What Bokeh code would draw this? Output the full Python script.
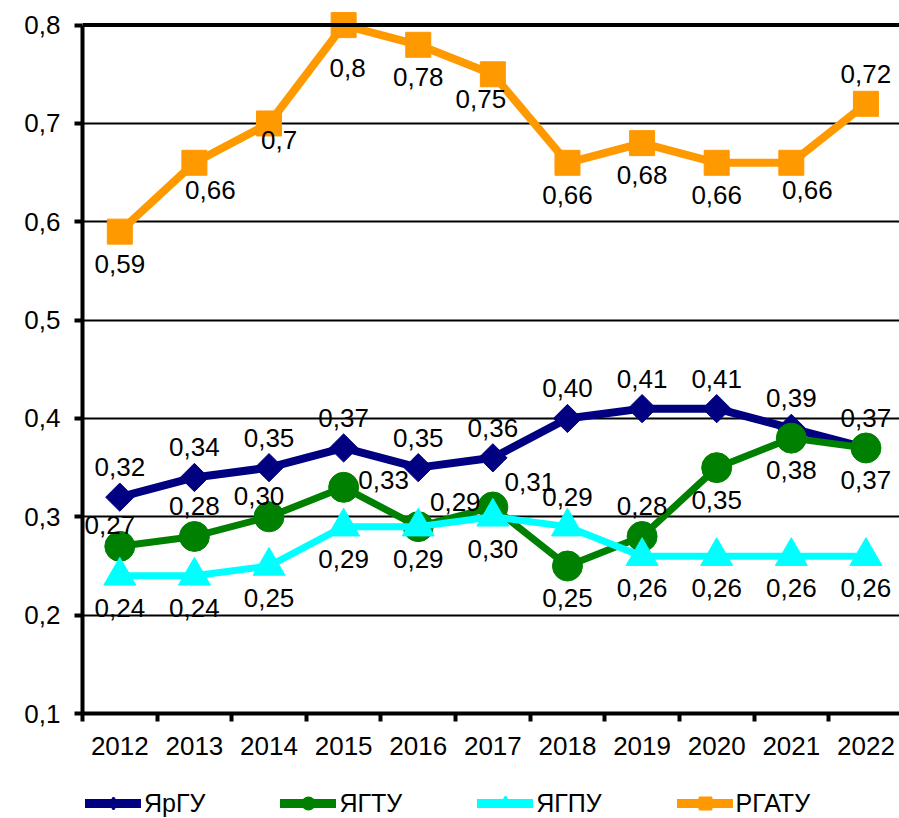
import math
from bokeh.plotting import figure
from bokeh.layouts import column
from bokeh.models import (ColumnDataSource, Range1d, FixedTicker, Span, Legend,
                          LegendItem)
from bokeh.core.properties import value
from bokeh.embed import file_html
from bokeh.resources import INLINE

# ---------------- data ----------------
years = ["2012", "2013", "2014", "2015", "2016", "2017", "2018", "2019", "2020", "2021", "2022"]
ygu = [0.32, 0.34, 0.35, 0.37, 0.35, 0.36, 0.40, 0.41, 0.41, 0.39, 0.37]      # ЯрГУ
ygtu = [0.27, 0.28, 0.30, 0.33, 0.29, 0.31, 0.25, 0.28, 0.35, 0.38, 0.37]     # ЯГТУ
ygpu = [0.24, 0.24, 0.25, 0.29, 0.29, 0.30, 0.29, 0.26, 0.26, 0.26, 0.26]     # ЯГПУ
rgatu = [0.59, 0.66, 0.70, 0.80, 0.78, 0.75, 0.66, 0.68, 0.66, 0.66, 0.72]    # РГАТУ
series_names = ["ЯрГУ", "ЯГТУ", "ЯГПУ", "РГАТУ"]
y_ticks = [0.1, 0.2, 0.3, 0.4, 0.5, 0.6, 0.7, 0.8]
y_tick_labels = ["0,1", "0,2", "0,3", "0,4", "0,5", "0,6", "0,7", "0,8"]

# label placement codes
place_ygu = ["a"] * 11
place_ygtu = ["al", "a", "al", "r", "ar", "ar", "b", "a", "b", "b", "b"]
place_ygpu = ["b", "b", "b", "b", "b", "b", "a", "b", "b", "b", "b"]
place_rgatu = ["b", "br", "bc", "bb", "b", "bl", "b", "b", "b", "br", "a"]

OFFS = {"a": (0, -30), "b": (0, 32), "r": (40, -7), "ar": (37, -25),
        "al": (-10, -21), "br": (16, 27), "bc": (10, 17), "bb": (4, 43),
        "bl": (-12, 25)}
FONT = "Liberation Sans"
FS = "26px"

xs = [i + 0.5 for i in range(len(years))]

p = figure(width=899, height=770, output_backend="svg", toolbar_location=None,
           x_range=Range1d(0, 10.95), y_range=Range1d(0.1, 0.8169),
           min_border_left=82, min_border_right=0, min_border_top=8,
           min_border_bottom=57)
p.outline_line_color = None
p.background_fill_color = "white"
p.border_fill_color = "white"

# axes
p.xaxis.ticker = FixedTicker(ticks=xs, minor_ticks=list(range(len(years) + 1)))
p.xaxis.major_label_overrides = {x: y for x, y in zip(xs, years)}
p.xaxis.major_tick_out = 0
p.xaxis.major_tick_in = 0
p.xaxis.minor_tick_out = 8
p.xaxis.minor_tick_in = 0
p.xaxis.minor_tick_line_width = 4
p.xaxis.minor_tick_line_color = "black"
p.xaxis.axis_line_width = 4
p.xaxis.axis_line_color = "black"
p.xaxis.bounds = (0, len(years))
p.xaxis.major_label_standoff = 15
p.xaxis.major_label_text_font = FONT
p.xaxis.major_label_text_font_size = FS
p.xaxis.major_label_text_color = "black"

p.yaxis.ticker = FixedTicker(ticks=y_ticks, minor_ticks=[])
p.yaxis.major_label_overrides = {t: l for t, l in zip(y_ticks, y_tick_labels)}
p.yaxis.major_tick_out = 8
p.yaxis.major_tick_in = 0
p.yaxis.major_tick_line_width = 4
p.yaxis.major_tick_line_color = "black"
p.yaxis.minor_tick_line_color = None
p.yaxis.axis_line_width = 4
p.yaxis.axis_line_color = "black"
p.yaxis.bounds = (y_ticks[0], y_ticks[-1])
p.yaxis.major_label_standoff = 14
p.yaxis.major_label_text_font = FONT
p.yaxis.major_label_text_font_size = FS
p.yaxis.major_label_text_color = "black"

p.xgrid.grid_line_color = None
p.ygrid.grid_line_color = "black"
p.ygrid.grid_line_width = 2
p.ygrid.bounds = (0, len(years))
p.add_layout(Span(location=y_ticks[-1], dimension="width", line_color="black", line_width=4))

# legend figure (separate strip under the chart)
lg = figure(width=899, height=48, output_backend="svg", toolbar_location=None,
            x_range=Range1d(0, 1), y_range=Range1d(0, 1), min_border=0)
lg.axis.visible = False
lg.grid.grid_line_color = None
lg.outline_line_color = None

# series
specs = [
    (ygu, "#000080", "square", 20, math.pi / 4, "diamond", place_ygu, "{:.2f}", 8),
    (ygtu, "#008000", "circle", 30, 0, "circle", place_ygtu, "{:.2f}", 7),
    (ygpu, "#00FFFF", "triangle", 32, 0, "triangle", place_ygpu, "{:.2f}", 7),
    (rgatu, "#FF9900", "square", 25, 0, "square", place_rgatu, "{:g}", 8),
]

items = []
text_sources = []
for name, (vals, color, marker, size, ang, lmarker, place, fmt, lw) in zip(series_names, specs):
    src = ColumnDataSource(dict(x=xs, y=vals))
    p.line("x", "y", source=src, line_color=color, line_width=lw, line_join="round")
    p.scatter("x", "y", source=src, marker=marker, size=size, angle=ang,
              fill_color=color, line_color=color)
    # legend-only renderers (no visible data point)
    dummy = ColumnDataSource(dict(x=[float("nan")], y=[float("nan")]))
    lln = lg.line("x", "y", source=dummy, line_color=color, line_width=9,
                  line_cap="round")
    lsc = lg.scatter("x", "y", source=dummy, marker=lmarker, size=14,
                     fill_color=color, line_color=color, line_width=2)
    items.append(LegendItem(label=name, renderers=[lln, lsc]))
    labels = [fmt.format(v).replace(".", ",") for v in vals]
    text_sources.append(ColumnDataSource(dict(
        x=xs, y=vals, t=labels,
        dx=[OFFS[c][0] for c in place], dy=[OFFS[c][1] for c in place])))

for ts in text_sources:
    p.text("x", "y", text="t", source=ts, x_offset="dx", y_offset="dy",
           text_align="center", text_baseline="middle",
           text_font=value(FONT), text_font_size=FS, text_color="black")

legend = Legend(items=items, orientation="horizontal", location=(3, 0),
                glyph_width=56, glyph_height=30, label_standoff=3, spacing=75,
                padding=0, margin=0, border_line_color=None,
                background_fill_alpha=0,
                label_text_font=FONT, label_text_font_size="25px",
                label_text_color="black")
lg.add_layout(legend, "center")

open("out.html", "w").write(file_html(column(p, lg, spacing=0), INLINE))
